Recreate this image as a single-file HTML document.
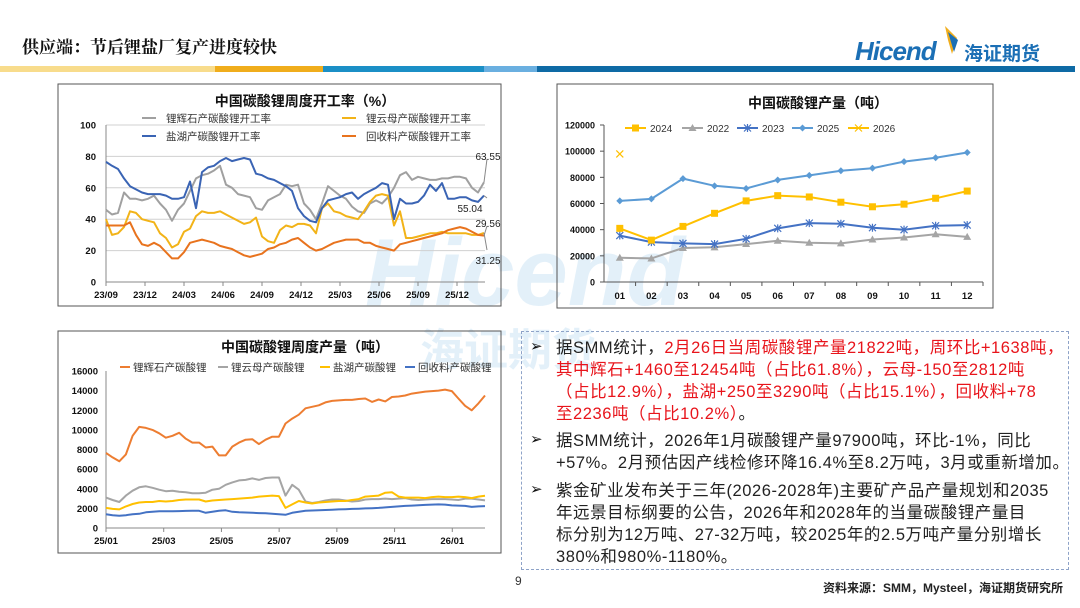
<!DOCTYPE html>
<html><head><meta charset="utf-8">
<style>
html,body{margin:0;padding:0;background:#fff;}
body{width:1080px;height:608px;overflow:hidden;position:relative;font-family:"Liberation Sans","Noto Sans CJK SC",sans-serif;}
svg text{font-family:"Liberation Sans","Noto Sans CJK SC",sans-serif;}
.bx{position:absolute;left:521px;top:331px;width:548px;height:239px;border:1.5px dashed #8ea3c8;box-sizing:border-box;}
.p{position:absolute;left:34px;font-size:16.5px;line-height:22px;color:#222;white-space:nowrap;letter-spacing:0.55px;}
.ar{position:absolute;left:8px;font-size:15px;color:#111;}
.red{color:#e8141b;}
</style></head>
<body>
<svg id="pg" width="1080" height="608" viewBox="0 0 1080 608" style="position:absolute;left:0;top:0">
  <text x="22" y="53" font-size="17" font-weight="bold" fill="#111" style="font-family:'Noto Serif CJK SC','Liberation Serif',serif">供应端：节后锂盐厂复产进度较快</text>
  <g>
    <rect x="0" y="66" width="215" height="6" fill="#f8dc8c"/>
    <rect x="215" y="66" width="108" height="6" fill="#f0ad1c"/>
    <rect x="323" y="66" width="161" height="6" fill="#1b8fc6"/>
    <rect x="484" y="66" width="53" height="6" fill="#6aafe0"/>
    <rect x="537" y="66" width="538" height="6" fill="#0e6aa5"/>
  </g>
  <g>
    <path d="M945 26 L957 38 L952 54 L948 40 Z" fill="#f0ad1c"/>
    <path d="M948 32 L958 40 L954 52 Z" fill="#1b6fb5"/>
    <text x="855" y="60" font-size="26" font-weight="bold" font-style="italic" fill="#1b6fb5" letter-spacing="-1">Hicend</text>
    <text x="964" y="60" font-size="19" font-weight="bold" fill="#1b6fb5">海证期货</text>
  </g>
  <g opacity="0.16">
    <text x="365" y="305" font-size="96" font-weight="bold" font-style="italic" fill="#5aa8dc">Hicend</text>
    <text x="420" y="365" font-size="44" font-weight="bold" fill="#5aa8dc">海证期货</text>
  </g>

  <rect x="58" y="84" width="443" height="222" fill="none" stroke="#555" stroke-width="1"/>
  <rect x="557" y="84" width="436" height="224" fill="none" stroke="#555" stroke-width="1"/>
  <rect x="58" y="331" width="443" height="222" fill="none" stroke="#555" stroke-width="1"/>
  <g id="c1"></g><g id="c2"></g><g id="c3"></g>

  <text x="515" y="585" font-size="12" fill="#333">9</text>
  <text x="1063" y="592" font-size="12" font-weight="bold" fill="#222" text-anchor="end">资料来源：SMM，Mysteel，海证期货研究所</text>
</svg>

<div class="bx">
  <div class="ar" style="top:5px">➢</div>
  <div class="p" style="top:5px">据SMM统计，<span class="red">2月26日当周碳酸锂产量21822吨，周环比+1638吨，<br>其中辉石+1460至12454吨（占比61.8%），云母-150至2812吨<br>（占比12.9%），盐湖+250至3290吨（占比15.1%），回收料+78<br>至2236吨（占比10.2%）</span>。</div>
  <div class="ar" style="top:98px">➢</div>
  <div class="p" style="top:98px">据SMM统计，2026年1月碳酸锂产量97900吨，环比-1%，同比<br>+57%。2月预估因产线检修环降16.4%至8.2万吨，3月或重新增加。</div>
  <div class="ar" style="top:148px">➢</div>
  <div class="p" style="top:148px">紫金矿业发布关于三年(2026-2028年)主要矿产品产量规划和2035<br>年远景目标纲要的公告，2026年和2028年的当量碳酸锂产量目<br>标分别为12万吨、27-32万吨，较2025年的2.5万吨产量分别增长<br>380%和980%-1180%。</div>
</div>

<script>
// ---- Chart 1: weekly utilization (%), biweekly samples from 23/09 ----
const c1Ticks = ['23/09','23/12','24/03','24/06','24/09','24/12','25/03','25/06','25/09','25/12'];
const c1YTicks = [0,20,40,60,80,100];
const c1Spodumene = [46,43,44,57,53,53,52,53,55,50,46,39,46,50,58,66,68,69,71,74,62,60,56,55,54,47,46,52,54,56,62,61,62,50,46,40,50,61,58,55,53,48,45,44,50,52,50,54,60,68,70,65,67,66,65,65,66,66,67,67,66,60,57,63.55];
const c1Brine = [76.5,74,72,66,61,59,57,56,56,56,55,53,53,54,64,47,70,73,74,77,79,77,78,79,78,69,68,66,65,63,61,58,47,42,39,38,47,52,53,54,56,57,53,56,58,60,63,62,40,53,50,50,51,55,62,58,63,53,53,54,54,52,51,55.04];
const c1Lepido = [40,30,31,35,45,44,40,39,38,31,28,22,24,32,34,42,45,44,44,45,43,41,39,37,38,41,29,26,25,33,36,35,37,37,36,31,47,50,45,44,42,41,40,45,51,55,56,55,36,45,28,28,29,30,31,31,32,31,31,31,31,30,30,31.25];
const c1Recycle = [36,36,36,36,38,30,24,23,25,23,19,15,15,19,25,26,27,26,25,23,22,21,19,17,16,17,18,21,22,24,25,27,28,25,22,20,21,23,25,26,27,27,27,25,25,23,22,21,20,24,25,26,27,28,29,30,31,33,34,35,34,32,30,29.56];
const c1EndLabels = ['63.55','55.04','29.56','31.25'];

// ---- Chart 2: monthly production (t) ----
const c2Months = ['01','02','03','04','05','06','07','08','09','10','11','12'];
const c2YTicks = [0,20000,40000,60000,80000,100000,120000];
const c2Y2024 = [41000,32000,42500,52500,62000,66000,65000,61000,57500,59500,64000,69500];
const c2Y2022 = [18500,18000,26000,26500,29000,31500,30000,29500,32500,34000,36500,34500];
const c2Y2023 = [35500,30500,29500,29000,33000,41000,45000,44500,41500,40000,43000,43500];
const c2Y2025 = [62000,63500,79000,73500,71500,78000,81500,85000,87000,92000,95000,99000];
const c2Y2026 = [97900];

// ---- Chart 3: weekly output (t) from 25/01 ----
const c3Ticks = ['25/01','25/03','25/05','25/07','25/09','25/11','26/01'];
const c3YTicks = [0,2000,4000,6000,8000,10000,12000,14000,16000];
const c3Spodumene = [7650,7200,6800,7500,9400,10300,10200,10000,9650,9200,9400,9700,9100,8700,8700,8200,8300,7400,7400,8300,8700,9000,9050,8550,9000,9300,9300,10650,11150,11550,12200,12350,12500,12800,12950,13000,13050,13050,13150,13200,12850,13100,12900,13350,13400,13500,13700,13800,13900,13950,14000,14100,13950,13200,12450,12000,12700,13500];
const c3Lepido = [3100,2850,2650,3300,3800,4150,4250,4100,3900,3750,3800,3700,3650,3550,3550,3600,3900,4000,4400,4650,4850,4900,5050,4900,5100,5150,5150,3300,4400,3900,2700,2550,2650,2800,2900,2900,2800,2700,2750,2900,2950,2950,3000,2950,3000,3050,2900,2850,2900,2950,2950,2950,2900,2850,3000,3000,2900,2812];
const c3Brine = [2050,1950,1900,2200,2450,2600,2650,2650,2750,2700,2750,2850,2900,2900,2900,2700,2800,2850,2900,2950,3000,3050,3100,3200,3250,3300,3250,2050,2400,2750,2600,2500,2600,2650,2700,2750,2750,2850,2950,3200,3250,3300,3600,3650,3200,3100,3100,3100,3050,3150,3200,3150,3150,3200,3150,3050,3200,3290];
const c3Recycle = [1400,1300,1250,1300,1400,1450,1600,1650,1700,1700,1700,1720,1740,1750,1750,1550,1650,1750,1800,1650,1600,1580,1550,1520,1500,1450,1400,1350,1550,1650,1750,1780,1800,1830,1860,1900,1920,1950,1970,2000,2020,2050,2100,2150,2200,2250,2280,2320,2350,2380,2400,2380,2300,2280,2250,2150,2200,2236];

const NS='http://www.w3.org/2000/svg';
function mk(parent,tag,attrs,txt){const e=document.createElementNS(NS,tag);for(const k in attrs)e.setAttribute(k,attrs[k]);if(txt!==undefined)e.textContent=txt;parent.appendChild(e);return e;}
function pathOf(vals,xf,yf){return vals.map((v,i)=>(i?'L':'M')+xf(i).toFixed(1)+' '+yf(v).toFixed(1)).join(' ');}

// ===== Chart 1 =====
(function(){
  const g=document.getElementById('c1');
  const L=106,R=485,B=282,T=125;
  const n=c1Spodumene.length;
  const x=i=>L+i*(R-L-1)/(n-1);
  const y=v=>B-v/100*(B-T);
  const t=mk(g,'text',{x:305,y:106,'font-size':14,'font-weight':'bold','text-anchor':'middle',fill:'#111'},'中国碳酸锂周度开工率（%）');
  
  
  c1YTicks.forEach(v=>{
    if(v>0){const gl=mk(g,'line',{x1:L,x2:R,y1:y(v),y2:y(v),stroke:'#d0d0d0','stroke-width':1});
      
      }
    const tl=mk(g,'text',{x:L-10,y:y(v)+3.5,'font-size':9.5,'font-weight':'bold','text-anchor':'end',fill:'#111'},v);
    
    
  });
  mk(g,'line',{x1:L,x2:L,y1:T,y2:B,stroke:'#888'});
  mk(g,'line',{x1:L,x2:R,y1:B,y2:B,stroke:'#888'});
  c1Ticks.forEach((s,k)=>{
    const xx=x(k*6.5);
    mk(g,'line',{x1:xx,x2:xx,y1:B,y2:B+4,stroke:'#888'});
    const tl=mk(g,'text',{x:xx,y:B+16,'font-size':9.5,'font-weight':'bold','text-anchor':'middle',fill:'#111'},s);
    
    
  });
  const series=[[c1Spodumene,'#a0a0a0','spodumene-utilization-line'],[c1Lepido,'#f2b318','lepidolite-utilization-line'],[c1Recycle,'#e8731e','recycle-utilization-line'],[c1Brine,'#3a64b4','brine-utilization-line']];
  series.forEach(s=>{
    const p=mk(g,'path',{d:pathOf(s[0],x,y),fill:'none',stroke:s[1],'stroke-width':2,'stroke-linejoin':'round'});
    
    
  });
  const ex=x(n-1);
  const lbl=[[c1Spodumene,c1EndLabels[0],156,488],[c1Brine,c1EndLabels[1],208,470],[c1Recycle,c1EndLabels[2],223,488],[c1Lepido,c1EndLabels[3],260,488]];
  lbl.forEach(a=>{
    const yy=y(a[0][n-1]);
    mk(g,'line',{x1:ex,y1:yy,x2:ex+3,y2:a[2]<yy?a[2]+3:a[2]-10,stroke:'#888'});
    const tl=mk(g,'text',{x:a[3],y:a[2]+4,'font-size':10,'text-anchor':'middle',fill:'#222'},a[1]);
    
    
  });
  const leg=[['锂辉石产碳酸锂开工率','#a0a0a0',142,118],['锂云母产碳酸锂开工率','#f2b318',342,118],['盐湖产碳酸锂开工率','#3a64b4',142,136],['回收料产碳酸锂开工率','#e8731e',342,136]];
  leg.forEach(l=>{
    const e=mk(g,'g',{});
    
    
    mk(e,'line',{x1:l[2],x2:l[2]+14,y1:l[3],y2:l[3],stroke:l[1],'stroke-width':2});
    mk(e,'text',{x:l[2]+24,y:l[3]+4,'font-size':10.5,fill:'#333'},l[0]);
  });
})();

// ===== Chart 2 =====
(function(){
  const g=document.getElementById('c2');
  const L=604,R=983,B=282,T=125;
  const bw=(R-L)/12;
  const x=i=>L+bw*(i+0.5);
  const y=v=>B-v/120000*(B-T);
  const t=mk(g,'text',{x:818,y:108,'font-size':14,'font-weight':'bold','text-anchor':'middle',fill:'#111'},'中国碳酸锂产量（吨）');
  
  
  mk(g,'line',{x1:L,x2:L,y1:T,y2:B,stroke:'#555'});
  mk(g,'line',{x1:L,x2:R,y1:B,y2:B,stroke:'#555'});
  c2YTicks.forEach(v=>{
    mk(g,'line',{x1:L-4,x2:L,y1:y(v),y2:y(v),stroke:'#555'});
    const tl=mk(g,'text',{x:L-9,y:y(v)+3.5,'font-size':9,'font-weight':'bold','text-anchor':'end',fill:'#111'},v);
    
    
  });
  c2Months.forEach((m,i)=>{
    mk(g,'line',{x1:L+bw*(i+1),x2:L+bw*(i+1),y1:B,y2:B+4,stroke:'#555'});
    const tl=mk(g,'text',{x:x(i),y:B+17,'font-size':9.5,'font-weight':'bold','text-anchor':'middle',fill:'#111'},m);
    
    
  });
  function marker(par,type,cx,cy,col){
    if(type==='sq')mk(par,'rect',{x:cx-3.5,y:cy-3.5,width:7,height:7,fill:col});
    else if(type==='tri')mk(par,'path',{d:`M${cx} ${cy-4}L${cx+4} ${cy+3}L${cx-4} ${cy+3}Z`,fill:col});
    else if(type==='dia')mk(par,'path',{d:`M${cx} ${cy-3.5}L${cx+3.5} ${cy}L${cx} ${cy+3.5}L${cx-3.5} ${cy}Z`,fill:col});
    else if(type==='ast'){mk(par,'path',{d:`M${cx-3.5} ${cy-3.5}L${cx+3.5} ${cy+3.5}M${cx+3.5} ${cy-3.5}L${cx-3.5} ${cy+3.5}M${cx} ${cy-4}L${cx} ${cy+4}`,stroke:col,'stroke-width':1.2});}
    else if(type==='x'){mk(par,'path',{d:`M${cx-3.5} ${cy-3.5}L${cx+3.5} ${cy+3.5}M${cx+3.5} ${cy-3.5}L${cx-3.5} ${cy+3.5}`,stroke:col,'stroke-width':1.2});}
  }
  const series=[[c2Y2022,'#a5a5a5','tri','line-2022'],[c2Y2023,'#4472c4','ast','line-2023'],[c2Y2024,'#ffc000','sq','line-2024'],[c2Y2025,'#5b9bd5','dia','line-2025'],[c2Y2026,'#ffc000','x','line-2026']];
  series.forEach(s=>{
    const e=mk(g,'g',{});
    
    
    if(s[0].length>1)mk(e,'path',{d:pathOf(s[0],x,y),fill:'none',stroke:s[1],'stroke-width':2});
    s[0].forEach((v,i)=>marker(e,s[2],x(i),y(v),s[1]));
  });
  const leg=[['2024','#ffc000','sq',625],['2022','#a5a5a5','tri',682],['2023','#4472c4','ast',737],['2025','#5b9bd5','dia',792],['2026','#ffc000','x',848]];
  leg.forEach(l=>{
    const e=mk(g,'g',{});
    
    
    mk(e,'line',{x1:l[3],x2:l[3]+21,y1:128,y2:128,stroke:l[1],'stroke-width':2});
    marker(e,l[2],l[3]+10.5,128,l[1]);
    mk(e,'text',{x:l[3]+25,y:132,'font-size':10,fill:'#333'},l[0]);
  });
})();

// ===== Chart 3 =====
(function(){
  const g=document.getElementById('c3');
  const L=106,R=485,B=528,T=371;
  const n=c3Spodumene.length;
  const x=i=>L+i*(R-L)/(n-1);
  const y=v=>B-v/16000*(B-T);
  const t=mk(g,'text',{x:305,y:352,'font-size':14,'font-weight':'bold','text-anchor':'middle',fill:'#111'},'中国碳酸锂周度产量（吨）');
  
  
  mk(g,'line',{x1:L,x2:L,y1:T,y2:B,stroke:'#888'});
  mk(g,'line',{x1:L,x2:R,y1:B,y2:B,stroke:'#888'});
  c3YTicks.forEach(v=>{
    const tl=mk(g,'text',{x:L-8,y:y(v)+3.5,'font-size':9.5,'font-weight':'bold','text-anchor':'end',fill:'#111'},v);
    
    
  });
  c3Ticks.forEach((s,k)=>{
    const xx=x(k*8.68);
    mk(g,'line',{x1:xx,x2:xx,y1:B,y2:B+4,stroke:'#888'});
    const tl=mk(g,'text',{x:xx,y:B+16,'font-size':9.5,'font-weight':'bold','text-anchor':'middle',fill:'#111'},s);
    
    
  });
  const series=[[c3Recycle,'#4472c4','recycle-output-line'],[c3Lepido,'#a5a5a5','lepidolite-output-line'],[c3Brine,'#ffc000','brine-output-line'],[c3Spodumene,'#ed7d31','spodumene-output-line']];
  series.forEach(s=>{
    const p=mk(g,'path',{d:pathOf(s[0],x,y),fill:'none',stroke:s[1],'stroke-width':2,'stroke-linejoin':'round'});
    
    
  });
  const leg=[['锂辉石产碳酸锂','#ed7d31',120],['锂云母产碳酸锂','#a5a5a5',218],['盐湖产碳酸锂','#ffc000',320],['回收料产碳酸锂','#4472c4',405]];
  leg.forEach(l=>{
    const e=mk(g,'g',{});
    
    
    mk(e,'line',{x1:l[2],x2:l[2]+10,y1:367,y2:367,stroke:l[1],'stroke-width':2});
    mk(e,'text',{x:l[2]+13,y:371,'font-size':10.5,fill:'#333'},l[0]);
  });
})();
</script>
</body></html>
